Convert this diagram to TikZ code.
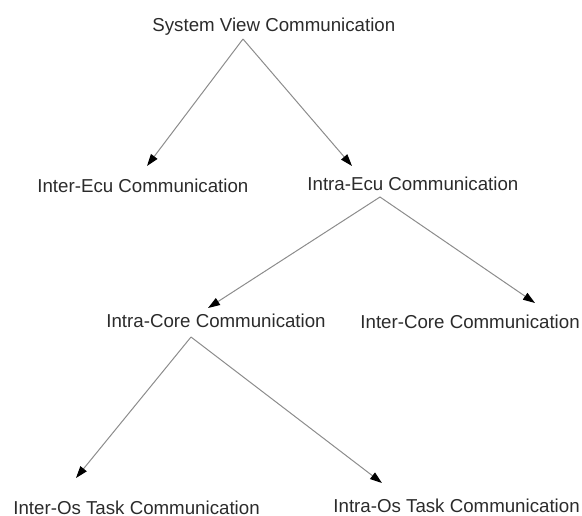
\documentclass[tikz,border=0pt]{standalone}
\usepackage{fontspec}
\setmainfont{Liberation Sans}
\usepackage{tikz}
\usetikzlibrary{arrows.meta, calc}
\usepackage{xcolor}

\definecolor{linegray}{HTML}{8C8C8C}
\definecolor{textgray}{HTML}{2B2B2B}

\begin{document}
\begin{tikzpicture}[x=0.5pt, y=-0.5pt,
        commlabel/.style={anchor=base west, inner sep=0pt, text=textgray,
            font=\fontsize{9.35}{11}\selectfont},
        branch/.style={draw=linegray, line width=0.5pt,
            -{Triangle[length=6pt, width=4pt, color=black]}}]
            \useasboundingbox (0,0) rectangle (582,515);

            \node[commlabel] (sysview) at (152,31) {System View Communication};
            \node[commlabel] (interecu) at (37,192) {Inter-Ecu Communication};
            \node[commlabel] (intraecu) at (307,190) {Intra-Ecu Communication};
            \node[commlabel] (intracore) at (106,327) {Intra-Core Communication};
            \node[commlabel] (intercore) at (360,328) {Inter-Core Communication};
            \node[commlabel] (interos) at (13,514) {Inter-Os Task Communication};
            \node[commlabel] (intraos) at (333,512) {Intra-Os Task Communication};

            \draw[branch] ($(sysview.base west)+(91,8)$) -- ($(interecu.base west)+(110,-26)$);
            \draw[branch] ($(sysview.base west)+(91,8)$) -- ($(intraecu.base west)+(45,-24)$);

            \draw[branch] ($(intraecu.base west)+(73,7)$) -- ($(intracore.base west)+(102,-19)$);
            \draw[branch] ($(intraecu.base west)+(73,7)$) -- ($(intercore.base west)+(175,-25)$);

            \draw[branch] ($(intracore.base west)+(85,10)$) -- ($(interos.base west)+(63,-36)$);
            \draw[branch] ($(intracore.base west)+(85,10)$) -- ($(intraos.base west)+(49,-29)$);
        \end{tikzpicture}
\end{document}
